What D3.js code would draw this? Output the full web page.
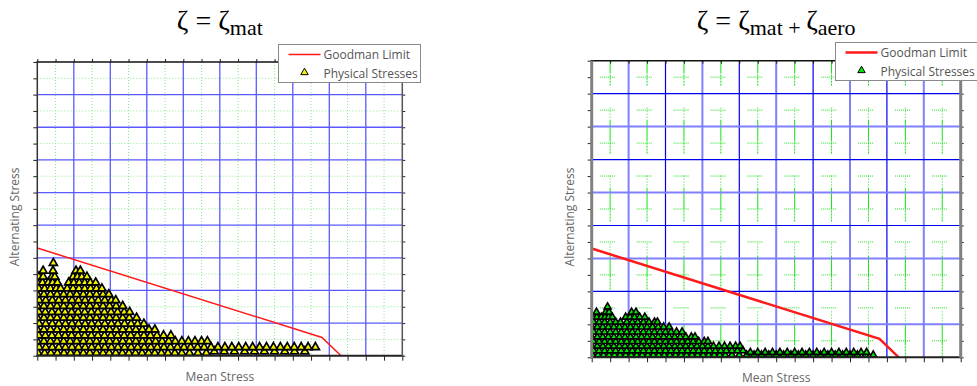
<!DOCTYPE html>
<html>
<head>
<meta charset="utf-8">
<script src="https://cdn.jsdelivr.net/npm/d3@7"></script>
<style>
  body { margin: 0; background: #fff; }
  svg { display: block; }
</style>
</head>
<body>
<div id="chart"></div>
<script>
// ---- data (mean stress / alternating stress, grid units) ----
var goodmanMean = [0, 7.8, 8.32];
var goodmanAlt  = [3.3, 0.56, 0];

var legendLabels = ["Goodman Limit", "Physical Stresses"];

// zeta = zeta_mat : one alternating level per row, with the mean values seen on it
var matAlt = [0.08, 0.13, 0.26, 0.44, 0.62, 0.8, 0.98, 1.16, 1.34, 1.52, 1.7, 1.88, 2.06, 2.24, 2.42, 2.6, 2.84];
var matMean = [
  [0.02,0.2,0.37,0.55,0.73,0.91,1.09,1.26,1.44,1.62,1.8,1.97,2.15,2.33,2.51,2.69,2.87,3.05,3.22,3.4,3.58,3.77,3.96,4.17,4.4,4.63],
  [4.85,5.12,5.4,5.68,5.95,6.22,6.5,6.78,7.05,7.33],
  [0.05,0.23,0.41,0.59,0.77,0.95,1.13,1.31,1.49,1.67,1.85,2.03,2.21,2.39,2.57,2.75,2.93,3.11,3.29,3.47,3.65,3.84,4.02,4.2,4.39,4.57,4.76,4.95,5.14,5.33,5.52,5.71,5.9,6.09,6.28,6.47,6.66,6.85,7.04,7.23,7.42,7.62],
  [0,0.18,0.36,0.54,0.72,0.9,1.08,1.26,1.44,1.62,1.8,1.98,2.16,2.34,2.52,2.7,2.88,3.06,3.24,3.42,3.6,3.78,3.96,4.14,4.32,4.5,4.66],
  [0.04,0.22,0.4,0.58,0.76,0.94,1.12,1.3,1.48,1.66,1.84,2.02,2.2,2.38,2.56,2.74,2.92,3.1,3.28,3.46,3.66],
  [0,0.18,0.36,0.54,0.72,0.9,1.08,1.26,1.44,1.62,1.8,1.98,2.16,2.34,2.52,2.7,2.88,3.06,3.22],
  [0.05,0.23,0.41,0.59,0.77,0.95,1.13,1.31,1.49,1.67,1.85,2.03,2.21,2.39,2.57,2.75,2.92],
  [0,0.18,0.36,0.54,0.72,0.9,1.08,1.26,1.44,1.62,1.8,1.98,2.16,2.34,2.52,2.72],
  [0.04,0.22,0.4,0.58,0.76,0.94,1.12,1.3,1.48,1.66,1.84,2.02,2.2,2.38,2.53],
  [0,0.18,0.36,0.54,0.72,0.9,1.08,1.26,1.44,1.62,1.8,1.98,2.16,2.34],
  [0.05,0.23,0.41,0.59,0.77,0.95,1.13,1.31,1.49,1.67,1.85,2.03,2.15],
  [0,0.18,0.36,0.54,0.72,0.9,1.08,1.26,1.44,1.62,1.8,1.96],
  [0.04,0.2,0.36,0.52,0.64,0.82,0.98,1.14,1.3,1.46,1.62,1.77],
  [0,0.14,0.3,0.42,0.55,0.86,1.0,1.15,1.3,1.45,1.6],
  [0.04,0.16,0.4,0.48,0.98,1.1,1.22,1.36],
  [0.16,0.43,1.06,1.18],
  [0.44]
];

// zeta = zeta_mat + zeta_aero
var aeroAlt = [0.07, 0.2, 0.15, 0.34, 0.48, 0.62, 0.77, 0.92, 1.07, 1.22, 1.37, 1.53];
var aeroMean = [
  [0.02,0.17,0.32,0.47,0.62,0.77,0.92,1.07,1.22,1.37,1.52,1.67,1.82,1.97,2.12,2.27,2.42,2.57,2.72,2.87,3.02,3.17,3.32,3.47,3.62,3.8,4.0,4.2,4.4,4.6,4.8,5.0,5.2,5.4,5.6,5.8,6.0,6.2,6.4,6.6,6.8,7.0,7.2,7.42,7.63],
  [0.05,0.2,0.35,0.5,0.65,0.8,0.95,1.1,1.25,1.4,1.55,1.7,1.85,2.0,2.15,2.3,2.45,2.6,2.75,2.9,3.05,3.2,3.35,3.5,3.65,3.8,3.95,4.1],
  [4.3,4.5,4.7,4.9,5.1,5.3,5.5,5.7,5.9,6.1,6.3,6.5,6.7,6.9,7.1,7.3,7.45],
  [0,0.15,0.3,0.45,0.6,0.75,0.9,1.05,1.2,1.35,1.5,1.65,1.8,1.95,2.1,2.25,2.4,2.55,2.7,2.85,3.0,3.15,3.3,3.45,3.6,3.75,3.9,4.02],
  [0.05,0.2,0.35,0.5,0.65,0.8,0.95,1.1,1.25,1.4,1.55,1.7,1.85,2.0,2.15,2.3,2.45,2.6,2.75,2.9,3.05,3.15],
  [0,0.15,0.3,0.45,0.6,0.75,0.9,1.05,1.2,1.35,1.5,1.65,1.8,1.95,2.1,2.25,2.4,2.55,2.7,2.8],
  [0.05,0.2,0.35,0.5,0.65,0.8,0.95,1.1,1.25,1.4,1.55,1.7,1.85,2.0,2.15,2.3,2.45],
  [0,0.15,0.3,0.45,0.6,0.75,0.9,1.05,1.2,1.35,1.5,1.65,1.8,1.95,2.1],
  [0.05,0.2,0.35,0.5,0.65,0.78,0.95,1.1,1.25,1.4,1.55,1.7,1.78],
  [0.02,0.14,0.26,0.36,0.46,0.56,0.92,1.04,1.16,1.3,1.44],
  [0.13,0.38,0.47,1.08,1.2],
  [0.43]
];

var xDomain = [0, 10];
var yDomain = [0, 9];

function toPoints(alts, means) {
  var pts = [];
  alts.forEach(function(a, i) {
    means[i].forEach(function(m) { pts.push({mean: m, alt: a}); });
  });
  return pts;
}

var width = 977, height = 386;
var svg = d3.select("#chart").append("svg")
  .attr("width", width).attr("height", height);

var labelFont = "'Open Sans', 'DejaVu Sans', sans-serif";
var titleFont = "'Liberation Serif', 'DejaVu Serif', serif";

function drawPanel(p) {
  var x = d3.scaleLinear().domain(xDomain).range([p.left, p.right]);
  var y = d3.scaleLinear().domain(yDomain).range([p.bottom, p.top]);
  var g = svg.append("g");

  var clipId = "clip-" + p.id;
  svg.append("clipPath").attr("id", clipId).append("rect")
    .attr("x", p.left).attr("y", p.top)
    .attr("width", p.right - p.left).attr("height", p.bottom - p.top);

  var majorX = d3.range(1, 10), majorY = d3.range(1, 9);
  var minorX = d3.range(0.5, 10, 1), minorY = d3.range(0.5, 9, 1);

  // minor grid
  if (p.id === "mat") {
    g.selectAll(".mx").data(minorX).enter().append("line")
      .attr("x1", d => x(d)).attr("x2", d => x(d))
      .attr("y1", p.top).attr("y2", p.bottom)
      .attr("stroke", "#8be88b").attr("stroke-dasharray", "1,2");
    g.selectAll(".my").data(minorY).enter().append("line")
      .attr("y1", d => y(d)).attr("y2", d => y(d))
      .attr("x1", p.left).attr("x2", p.right)
      .attr("stroke", "#8be88b").attr("stroke-dasharray", "1,2");
  } else {
    var cw = x(1) - x(0), ch = y(0) - y(1);
    g.selectAll(".my").data(minorY).enter().append("line")
      .attr("y1", d => y(d)).attr("y2", d => y(d))
      .attr("x1", p.left).attr("x2", p.right)
      .attr("stroke", "#1be01b").attr("stroke-width", 1)
      .attr("stroke-dasharray", "1,1,1,1,1,1,1,1,1,1,1,1,1,1,1," + (cw - 15).toFixed(2))
      .attr("stroke-dashoffset", (cw - 0.22 * cw).toFixed(2));
    g.selectAll(".mx").data(minorX).enter().append("line")
      .attr("x1", d => x(d)).attr("x2", d => x(d))
      .attr("y1", p.top).attr("y2", p.bottom)
      .attr("stroke", "#1be01b").attr("stroke-width", 1)
      .attr("stroke-dasharray", "1,2,1,2,1,2,1,2," + (ch - 11).toFixed(2))
      .attr("stroke-dashoffset", (ch - 12).toFixed(2));
  }

  // major grid
  g.selectAll(".gx").data(majorX).enter().append("line")
    .attr("x1", d => x(d)).attr("x2", d => x(d))
    .attr("y1", p.top).attr("y2", p.bottom)
    .attr("stroke", (d, i) => p.id === "mat" ? "#5a5aff" : (i % 2 ? "#0000f0" : "#8080ff"))
    .attr("stroke-width", (d, i) => p.id === "mat" ? 1.3 : (i % 2 ? 1.2 : 2));
  g.selectAll(".gy").data(majorY).enter().append("line")
    .attr("y1", d => y(d)).attr("y2", d => y(d))
    .attr("x1", p.left).attr("x2", p.right)
    .attr("stroke", (d, i) => p.id === "mat" ? "#5a5aff" : (i % 2 ? "#0000f0" : "#8080ff"))
    .attr("stroke-width", (d, i) => p.id === "mat" ? 1.3 : (i % 2 ? 1.2 : 2));

  // physical stresses
  var pts = toPoints(p.alts, p.means);
  var sym = d3.symbol().type(d3.symbolTriangle).size(p.markerSize);
  g.append("g").attr("clip-path", "url(#" + clipId + ")")
    .selectAll("path").data(pts).enter().append("path")
    .attr("d", sym)
    .attr("transform", d => "translate(" + x(d.mean) + "," + y(d.alt) + ")")
    .attr("fill", p.markerFill)
    .attr("stroke", "#000").attr("stroke-width", p.markerStroke);

  // Goodman limit
  var line = d3.line().x(d => x(d[0])).y(d => y(d[1]));
  g.append("path")
    .datum(goodmanMean.map((m, i) => [m, goodmanAlt[i]]))
    .attr("d", line).attr("fill", "none")
    .attr("stroke", "#ff1a1a").attr("stroke-width", p.lineWidth);

  // ticks (no labels)
  var ticksX = d3.range(0, 10.01, 0.5), ticksY = d3.range(0, 9.01, 0.5);
  function tickStyle(sel) {
    sel.select(".domain").remove();
    sel.selectAll("line").attr("stroke", "#222");
  }
  g.append("g").attr("transform", "translate(0," + p.bottom + ")")
    .call(d3.axisBottom(x).tickValues(ticksX).tickSize(5).tickFormat("")).call(tickStyle);
  g.append("g").attr("transform", "translate(" + p.left + ",0)")
    .call(d3.axisLeft(y).tickValues(ticksY).tickSize(4).tickFormat("")).call(tickStyle);
  g.append("g").attr("transform", "translate(" + p.right + ",0)")
    .call(d3.axisRight(y).tickValues(ticksY).tickSize(3).tickFormat("")).call(tickStyle);
  g.append("g").attr("transform", "translate(0," + p.top + ")")
    .call((p.id === "mat" ? d3.axisTop(x) : d3.axisBottom(x)).tickValues(ticksX).tickSize(3).tickFormat("")).call(tickStyle);

  // frame
  g.append("line").attr("x1", p.left - 1).attr("x2", p.right + 1).attr("y1", p.top).attr("y2", p.top)
    .attr("stroke", "#111").attr("stroke-width", 1.5);
  g.append("line").attr("x1", p.left - 1).attr("x2", p.right + 1).attr("y1", p.bottom).attr("y2", p.bottom)
    .attr("stroke", "#222").attr("stroke-width", 2);
  g.append("line").attr("x1", p.left).attr("x2", p.left).attr("y1", p.top).attr("y2", p.bottom + 1)
    .attr("stroke", p.id === "mat" ? "#333" : "#808080").attr("stroke-width", p.id === "mat" ? 1.5 : 3);
  g.append("line").attr("x1", p.right).attr("x2", p.right).attr("y1", p.top).attr("y2", p.bottom + 1)
    .attr("stroke", p.id === "mat" ? "#555" : "#808080").attr("stroke-width", p.id === "mat" ? 1.5 : 3);

  // axis titles
  g.append("text").attr("x", (p.left + p.right) / 2).attr("y", p.bottom + 25)
    .attr("text-anchor", "middle").attr("font-family", labelFont).attr("font-size", "12px")
    .attr("fill", "#666").text("Mean Stress");
  g.append("text")
    .attr("transform", "translate(" + (p.left - 18) + "," + ((p.top + p.bottom) / 2 + 8) + ") rotate(-90)")
    .attr("text-anchor", "middle").attr("font-family", labelFont).attr("font-size", "12px")
    .attr("fill", "#666").text("Alternating Stress");

  // title
  var t = g.append("text").attr("x", (p.left + p.right) / 2).attr("y", 30)
    .attr("text-anchor", "middle").attr("font-family", titleFont).attr("font-size", "28px")
    .attr("fill", "#000");
  p.title.forEach(function(part) {
    t.append("tspan").attr("font-size", part.sub ? "22px" : "28px")
      .attr("dy", part.dy).text(part.text);
  });

  // legend
  var lg = g.append("g").attr("transform", "translate(" + p.legendX + "," + p.legendY + ")");
  lg.append("rect").attr("width", 142).attr("height", 38)
    .attr("fill", "#fff").attr("stroke", "#8a8a8a").attr("stroke-width", 1);
  lg.append("line").attr("x1", 10).attr("x2", 42).attr("y1", 10).attr("y2", 10)
    .attr("stroke", "#ff1a1a").attr("stroke-width", p.lineWidth);
  lg.append("path").attr("d", d3.symbol().type(d3.symbolTriangle).size(24))
    .attr("transform", "translate(26,28)")
    .attr("fill", p.markerFill).attr("stroke", "#000").attr("stroke-width", 1);
  lg.selectAll(".lt").data(legendLabels).enter().append("text")
    .attr("x", 45).attr("y", (d, i) => 14.5 + i * 18.5)
    .attr("font-family", labelFont).attr("font-size", "12px").attr("fill", "#555")
    .text(d => d);
}

drawPanel({
  id: "mat", left: 37.3, right: 402.3, top: 62, bottom: 355.7,
  alts: matAlt, means: matMean, markerFill: "#f2f200", markerSize: 28, markerStroke: 1.7, lineWidth: 1.5,
  legendX: 278.5, legendY: 44.5,
  title: [{text: "ζ = ζ", dy: 0}, {text: "mat", sub: true, dy: 5}]
});

drawPanel({
  id: "aero", left: 591.7, right: 960.7, top: 60.7, bottom: 357.3,
  alts: aeroAlt, means: aeroMean, markerFill: "#00e600", markerSize: 21, markerStroke: 1.6, lineWidth: 2.5,
  legendX: 835.5, legendY: 42.5,
  title: [{text: "ζ = ζ", dy: 0}, {text: "mat + ", sub: true, dy: 5}, {text: "ζ", dy: -5}, {text: "aero", sub: true, dy: 5}]
});
</script>
</body>
</html>
